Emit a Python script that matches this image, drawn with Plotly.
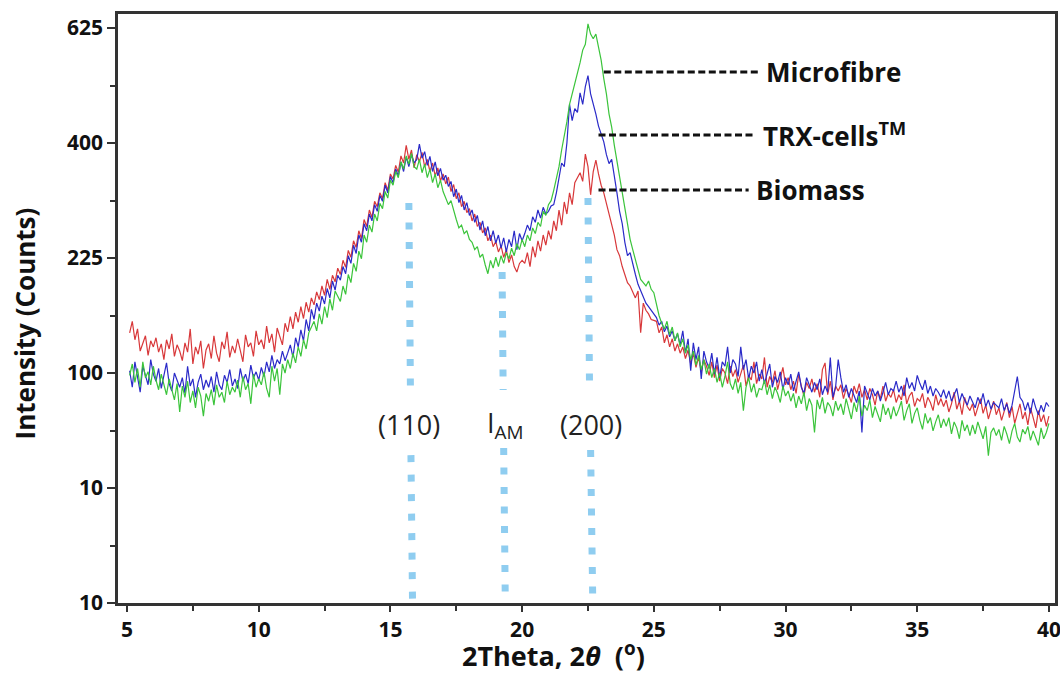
import numpy as np
import plotly.graph_objects as go

# ---------------- data (counts) ----------------
two_theta_start = 5.1
two_theta_step = 0.1

biomass = [
    138, 150, 131, 142, 120, 128, 135, 116, 130, 124,
    133, 119, 127, 112, 131, 122, 137, 115, 126, 120,
    111, 128, 119, 142, 108, 124, 117, 130, 104, 121,
    127, 113, 135, 118, 110, 129, 122, 139, 114, 125,
    118, 132, 121, 110, 136, 124, 128, 115, 140, 126,
    131, 122, 145, 128, 137, 119, 143, 133, 126, 148,
    139, 155, 142, 160, 149, 166, 153, 171, 160, 176,
    168, 183, 174, 190, 179, 198, 186, 203, 195, 212,
    204, 222, 213, 235, 226, 248, 239, 262, 251, 278,
    268, 292, 281, 305, 297, 318, 309, 334, 322, 348,
    340, 362, 351, 378, 366, 396, 372, 388, 358, 380,
    368, 384, 360, 372, 352, 366, 345, 358, 337, 348,
    332, 343, 320, 331, 309, 318, 297, 305, 288, 294,
    276, 286, 268, 274, 259, 266, 248, 256, 240, 247,
    233, 241, 226, 236, 219, 229, 214, 207, 218, 222,
    218, 232, 214, 240, 226, 248, 234, 256, 242, 262,
    250, 276, 262, 292, 270, 304, 286, 318, 300, 334,
    342, 350, 336, 381, 360, 315, 352, 371, 348, 330,
    318, 302, 285, 270, 256, 236, 228, 214, 204, 194,
    190, 182, 176, 184, 138, 170, 162, 158, 152, 151,
    150, 138, 144, 128, 136, 124, 132, 120, 127, 118,
    124, 113, 121, 108, 118, 105, 114, 101, 112, 106,
    98, 110, 96, 107, 93, 104, 100, 91, 106, 97,
    103, 92, 100, 107, 89, 98, 94, 110, 91, 99,
    95, 114, 88, 97, 92, 102, 86, 96, 105, 90,
    96, 86, 93, 83, 99, 89, 81, 92, 87, 95,
    84, 91, 80, 103, 109, 82, 93, 78, 89, 85,
    90, 79, 87, 82, 76, 89, 83, 91, 80, 86,
    78, 87, 82, 74, 85, 79, 89, 77, 83, 80,
    86, 76, 82, 78, 90, 75, 81, 84, 73, 79,
    77, 83, 72, 80, 76, 70, 82, 74, 79, 73,
    78, 69, 75, 84, 71, 77, 67, 80, 73, 70,
    75, 66, 72, 79, 68, 74, 64, 71, 77, 67,
    72, 63, 69, 76, 65, 73, 61, 68, 75, 64,
    69, 60, 72, 65, 58, 70, 62, 67, 59, 66,
]

trx_cells = [
    102, 88, 110, 95, 84, 106, 97, 90, 112, 99,
    93, 104, 87, 98, 109, 91, 85, 100, 94, 88,
    96, 83, 106, 89, 95, 80, 92, 99, 86, 94,
    88, 97, 84, 101, 90, 86, 98, 92, 103, 89,
    95, 87, 104, 93, 99, 91, 107, 96, 101, 94,
    105, 97, 110, 101, 116, 104, 112, 108, 120, 111,
    118, 126, 114, 133, 124, 141, 130, 152, 140, 163,
    152, 170, 161, 178, 169, 187, 176, 196, 185, 203,
    197, 214, 205, 228, 218, 242, 231, 256, 246, 272,
    262, 286, 276, 300, 290, 314, 305, 330, 318, 344,
    334, 356, 345, 368, 352, 376, 360, 380, 366, 372,
    398, 374, 385, 362, 377, 352, 368, 345, 357, 338,
    346, 328, 336, 312, 324, 303, 314, 292, 303, 284,
    292, 274, 284, 263, 276, 255, 268, 248, 262, 245,
    256, 238, 252, 233, 250, 240, 262, 236, 258, 248,
    258, 270, 262, 282, 274, 292, 280, 296, 286, 290,
    298, 300, 318, 342, 366, 360, 400, 470, 440, 462,
    455, 492, 470, 504, 526, 490, 472, 452, 430, 414,
    402, 380, 365, 372, 340, 318, 290, 272, 246, 228,
    232, 216, 204, 192, 184, 177, 170, 166, 162, 158,
    154, 146, 150, 139, 145, 134, 140, 130, 137, 126,
    140, 118, 132, 102, 128, 112, 124, 95, 120, 110,
    104, 118, 99, 114, 96, 110, 106, 124, 100, 112,
    108, 97, 124, 103, 112, 95, 106, 100, 110, 93,
    103, 91, 99, 108, 88, 97, 92, 101, 86, 96,
    90, 99, 85, 94, 101, 88, 83, 96, 89, 84,
    92, 86, 95, 82, 89, 84, 114, 80, 88, 112,
    96, 84, 90, 80, 87, 82, 76, 85, 55, 89,
    83, 78, 87, 81, 85, 77, 84, 92, 82, 87,
    85, 93, 84, 89, 81, 96, 87, 92, 85, 98,
    91, 86, 94, 83, 89, 81, 87, 84, 80, 86,
    79, 85, 77, 82, 87, 76, 83, 78, 74, 81,
    77, 72, 80, 75, 83, 73, 78, 71, 76, 74,
    72, 79, 70, 75, 68, 74, 85, 97, 80, 77,
    70, 76, 68, 79, 72, 67, 74, 69, 76, 73,
]

microfibre = [
    98, 108, 92, 104, 88, 110, 96, 101, 90, 106,
    94, 86, 99, 90, 82, 95, 87, 78, 91, 69,
    89, 80, 93, 76, 85, 72, 88, 81, 66, 83,
    77, 86, 74, 90, 80, 84, 76, 93, 82, 88,
    84, 94, 80, 97, 86, 91, 75, 99, 88, 95,
    90, 101, 87, 80, 106, 93, 104, 82, 108, 100,
    112, 104, 118, 109, 124, 115, 131, 122, 138, 145,
    150, 140, 158, 147, 166, 154, 175, 162, 184, 178,
    172, 190, 180, 204, 194, 218, 208, 234, 224, 256,
    246, 270, 260, 286, 276, 302, 294, 320, 310, 338,
    330, 352, 342, 368, 356, 378, 364, 382, 360, 356,
    372, 350, 364, 342, 356, 334, 348, 326, 338, 320,
    310, 300, 306, 290, 278, 266, 270, 258, 262, 250,
    246, 236, 240, 226, 230, 216, 205, 222, 212, 226,
    214, 228, 218, 232, 224, 238, 228, 244, 236, 250,
    240, 256, 248, 266, 258, 274, 268, 290, 284, 300,
    306, 322, 340, 360, 388, 412, 438, 470, 490, 507,
    530, 552, 578, 590, 634, 612, 602, 612, 584, 557,
    520, 490, 452, 428, 396, 370, 346, 320, 296, 272,
    250, 236, 222, 210, 198, 194, 190, 196, 186, 182,
    168, 156, 148, 142, 150, 136, 144, 130, 138, 124,
    132, 118, 126, 112, 120, 107, 116, 103, 112, 99,
    108, 96, 104, 92, 100, 88, 97, 110, 91, 86,
    95, 83, 92, 70, 88, 96, 84, 91, 80, 87,
    86, 94, 82, 90, 79, 88, 83, 76, 89, 81,
    85, 77, 83, 72, 81, 75, 84, 70, 79, 74,
    55, 78, 71, 80, 68, 76, 73, 66, 77, 70,
    75, 67, 79, 72, 64, 76, 69, 81, 66, 74,
    70, 78, 65, 73, 68, 62, 75, 67, 72, 64,
    73, 66, 71, 77, 63, 70, 75, 61, 68, 72,
    63, 57, 68, 61, 65, 56, 62, 67, 58, 64,
    59, 65, 54, 62, 58, 51, 63, 56, 60, 53,
    60, 54, 62, 56, 51, 59, 41, 55, 58, 53,
    57, 50, 59, 54, 48, 56, 61, 52, 49, 57,
    54, 59, 50, 56, 52, 47, 58, 51, 55, 61,
]

two_theta = [round(two_theta_start + two_theta_step * i, 1) for i in range(len(biomass))]

# y axis is a square-root intensity scale; labels as printed on the figure
y_tick_sqrt = [0, 5, 10, 15, 20, 25]
y_tick_labels = ["10", "10", "100", "225", "400", "625"]
x_tick_values = [5, 10, 15, 20, 25, 30, 35, 40]

series_names = ["Biomass", "TRX-cells<sup>TM</sup>", "Microfibre"]
series_values = [biomass, trx_cells, microfibre]
series_colors = ["#D8383A", "#2A2AC8", "#3BC43B"]

peak_labels = ["(110)", "I<sub>AM</sub>", "(200)"]

# ---------------- figure ----------------
FONT = "Open Sans"
fig = go.Figure()
for name, vals, col in zip(series_names, series_values, series_colors):
    fig.add_trace(go.Scatter(
        x=two_theta, y=np.sqrt(np.array(vals, dtype=float)),
        mode="lines", name=name, line=dict(color=col, width=1.2),
        showlegend=False,
    ))

dot_col = "#8FCDF0"
# (x_top, y_top, x_bottom, y_bottom) segments in axis units (sqrt scale)
dotted_segments = [
    (15.70, 17.39, 15.76, 9.26), (15.78, 6.43, 15.84, 0.0),
    (19.24, 14.39, 19.28, 9.26), (19.30, 6.74, 19.36, 0.2),
    (22.50, 17.61, 22.56, 9.17), (22.60, 6.65, 22.68, 0.2),
]
shapes = []
for x0, y0, x1, y1 in dotted_segments:
    shapes.append(dict(type="line", xref="x", yref="y", x0=x0, y0=y0, x1=x1, y1=y1,
                       line=dict(color=dot_col, width=7, dash="7px,12.5px"), layer="above"))

# leader lines to the series labels
leaders = [
    (23.1, 29.0, 23.09, "Microfibre"),
    (22.9, 28.85, 20.35, "TRX-cells<sup>TM</sup>"),
    (22.9, 28.6, 17.96, "Biomass"),
]
annotations = []
for x0, x1, yy, label in leaders:
    shapes.append(dict(type="line", xref="x", yref="y", x0=x0, x1=x1, y0=yy, y1=yy,
                       line=dict(color="#111111", width=3, dash="7px,3.5px")))
    annotations.append(dict(x=x1 + 0.2, y=yy, xref="x", yref="y", text="<b>" + label + "</b>",
                            showarrow=False, xanchor="left", yanchor="middle",
                            font=dict(family=FONT, size=26, color="#111111")))

for lx, lab in zip([15.71, 19.35, 22.6], peak_labels):
    annotations.append(dict(x=lx, y=7.74, xref="x", yref="y", text=lab, showarrow=False,
                            xanchor="center", yanchor="middle",
                            font=dict(family=FONT, size=27, color="#222222")))

# axis titles
annotations.append(dict(x=-0.099, y=0.475, xref="paper", yref="paper",
                        xanchor="center", yanchor="middle",
                        text="<b>Intensity (Counts)</b>", textangle=-90, showarrow=False,
                        font=dict(family=FONT, size=26, color="#111111")))
annotations.append(dict(x=0.465, y=-0.088, xref="paper", yref="paper",
                        xanchor="center", yanchor="middle",
                        text="<b>2Theta, 2<i>θ</i>  (<sup>o</sup>)</b>", showarrow=False,
                        font=dict(family=FONT, size=27, color="#111111")))

fig.update_layout(
    width=1060, height=675,
    margin=dict(l=118, r=5, t=14, b=72),
    paper_bgcolor="white", plot_bgcolor="white",
    shapes=shapes, annotations=annotations,
    font=dict(family=FONT, color="#111111"),
)
axis_common = dict(
    tickmode="array", ticks="outside", tickwidth=2, tickcolor="#333333",
    showline=True, linewidth=2.5, linecolor="#333333", mirror=True,
    showgrid=False, zeroline=False, automargin=False, ticklabeloverflow="allow",
    tickfont=dict(family=FONT, size=21, color="#111111", weight="bold"),
    minor=dict(tickmode="linear", tick0=0, dtick=2.5, ticks="outside", ticklen=5,
               tickwidth=2, tickcolor="#333333", showgrid=False),
)
fig.update_xaxes(range=[4.658, 40.23], tickvals=x_tick_values, ticklen=6, **axis_common)
fig.update_yaxes(range=[0, 25.61], tickvals=y_tick_sqrt, ticktext=y_tick_labels,
                 ticklen=8, **axis_common)

fig.write_html("out.html", config={"displayModeBar": False},
               post_script="document.body.style.margin='0';")
